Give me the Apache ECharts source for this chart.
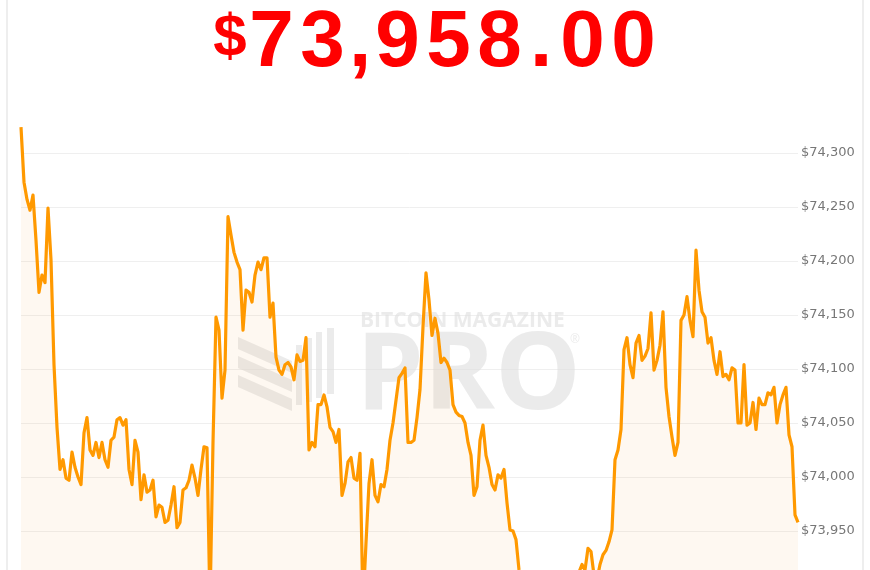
<!DOCTYPE html>
<html>
<head>
<meta charset="utf-8">
<script src="https://cdn.jsdelivr.net/npm/echarts@6/dist/echarts.min.js"></script>
<style>
html,body{margin:0;padding:0;background:#fff;overflow:hidden;width:870px;height:570px;}
#c{width:870px;height:600px;}
</style>
</head>
<body>
<div id="c"></div>
<script>
// Headline price
var headlinePrice = '$73,958.00';
// Y-axis ticks
var yMin = 73900, yMax = 74350, yStep = 50;
// Price series (left to right)
var prices = [
74324,74273,74257,74247,74261,74219,74171,74187,74180,74249,
74201,74104,74046,74007,74016,73999,73997,74023,74009,74000,
73993,74041,74055,74025,74020,74032,74018,74032,74016,74009,
74034,74037,74053,74055,74048,74053,74007,73993,74034,74023,
73979,74002,73986,73988,73997,73963,73974,73972,73958,73960,
73974,73991,73953,73958,73988,73990,73997,74011,73999,73983,
74007,74028,74027,73880,74032,74148,74136,74073,74099,74241,
74224,74208,74199,74192,74136,74173,74171,74162,74187,74199,
74192,74203,74203,74148,74161,74111,74099,74095,74104,74106,
74102,74090,74113,74107,74108,74129,74025,74032,74028,74067,
74067,74076,74065,74046,74042,74032,74044,73983,73994,74014,
74018,73999,73997,74022,73880,73939,73994,74016,73983,73977,
73993,73991,74007,74034,74050,74071,74092,74096,74101,74032,
74032,74034,74055,74081,74139,74189,74164,74131,74147,74133,
74106,74110,74106,74099,74067,74060,74057,74056,74050,74032,
74020,73983,73991,74034,74048,74020,74009,73993,73988,74002,
73999,74007,73976,73951,73950,73942,73914,73895,73885,73878,
73872,73870,73866,73868,73874,73871,73878,73883,73880,73887,
73892,73889,73896,73901,73898,73906,73912,73919,73914,73934,
73931,73909,73905,73919,73928,73932,73940,73951,74016,74025,
74044,74118,74129,74104,74092,74124,74131,74108,74112,74119,
74152,74099,74108,74122,74153,74083,74056,74037,74020,74032,
74145,74150,74167,74145,74130,74210,74173,74153,74148,74124,
74129,74108,74095,74116,74093,74095,74090,74101,74099,74050,
74050,74104,74048,74050,74069,74044,74073,74067,74067,74078,
74076,74083,74050,74067,74076,74083,74039,74028,73965,73958
];
var categories = prices.map(function(_, i){ return String(i); });

// Build rich headline: each character its own token
function buildHeadline(s){
  var out = '';
  for (var i = 0; i < s.length; i++) {
    var ch = s[i];
    var k = ch === '$' ? 's' : (ch === ',' ? 'c' : (ch === '.' ? 'p' : 'd'));
    out += '{' + k + '|' + ch + '}';
  }
  return out;
}
var hf = 'Liberation Sans, Arial, Helvetica, sans-serif';
function tok(size, w, pad){
  return {fontSize:size, fontWeight:'bold', fontFamily:hf, fill:'#ff0000', width:w, align:'center', verticalAlign:'middle', lineHeight:90, padding: pad || [0,0,0,0]};
}

var wm = '#dedede';
var wmo = 0.6;
var chart = echarts.init(document.getElementById('c'), null, {renderer:'canvas'});
chart.setOption({
  animation:false,
  backgroundColor:'#ffffff',
  grid:{left:21, right:72, top:99, bottom:15, containLabel:false},
  xAxis:{type:'category', data:categories, boundaryGap:false, show:false},
  yAxis:{
    type:'value', position:'right', min:yMin, max:yMax, interval:yStep,
    axisLine:{show:false}, axisTick:{show:false},
    splitLine:{show:true, showMaxLine:false, showMinLine:false, lineStyle:{color:'#efefef', width:1}},
    axisLabel:{
      color:'#777777', fontSize:13, fontFamily:'DejaVu Sans, Verdana, sans-serif', margin:3,
      showMaxLabel:false, showMinLabel:false,
      formatter:function(v){ return '$' + v.toLocaleString('en-US'); }
    }
  },
  graphic:{elements:[
    {type:'line', z:0, silent:true, shape:{x1:7,y1:0,x2:7,y2:600}, style:{stroke:'#e8e8e8', lineWidth:1.5}},
    {type:'line', z:0, silent:true, shape:{x1:863,y1:0,x2:863,y2:600}, style:{stroke:'#e8e8e8', lineWidth:1.5}},
    {type:'text', z:5, silent:true, style:{
      x:214, y:44, text:buildHeadline(headlinePrice), verticalAlign:'middle', align:'left',
      rich:{ s:tok(60,32,[0,0,10,0]), d:tok(80,51), c:tok(80,24), p:tok(80,32) }
    }},
    // watermark
    {type:'polygon', z:1, silent:true, shape:{points:[[238,337],[292,361],[292,373],[238,349]]}, style:{fill:wm, opacity:wmo}},
    {type:'polygon', z:1, silent:true, shape:{points:[[238,356],[292,380],[292,392],[238,368]]}, style:{fill:wm, opacity:wmo}},
    {type:'polygon', z:1, silent:true, shape:{points:[[238,375],[292,399],[292,411],[238,387]]}, style:{fill:wm, opacity:wmo}},
    {type:'rect', z:1, silent:true, shape:{x:296,y:345,width:6,height:60}, style:{fill:wm, opacity:wmo}},
    {type:'rect', z:1, silent:true, shape:{x:306,y:338,width:6,height:64}, style:{fill:wm, opacity:wmo}},
    {type:'rect', z:1, silent:true, shape:{x:316,y:332,width:6,height:66}, style:{fill:wm, opacity:wmo}},
    {type:'rect', z:1, silent:true, shape:{x:327,y:328,width:7,height:66}, style:{fill:wm, opacity:wmo}},
    {type:'text', z:1, silent:true, style:{x:360, y:321, text:'BITCOIN MAGAZINE', font:'bold 21px "Open Sans", sans-serif', fill:wm, opacity:wmo, verticalAlign:'middle', align:'left'}},
    {type:'text', z:1, silent:true, style:{x:356, y:378, text:'PRO', font:'bold 108px "Open Sans", sans-serif', fill:wm, opacity:wmo, verticalAlign:'middle', align:'left'}},
    {type:'text', z:1, silent:true, style:{x:575, y:340, text:'®', font:'12px "Open Sans", sans-serif', fill:wm, opacity:wmo, verticalAlign:'middle', align:'center'}}
  ]},
  series:[{
    type:'line', data:prices, z:2, showSymbol:false, symbol:'none', smooth:false,
    lineStyle:{color:'#ff9900', width:3.2, join:'round'},
    itemStyle:{color:'#ff9900'},
    areaStyle:{color:'rgba(247,147,26,0.09)', origin:'start'},
    clip:true
  }]
});
</script>
</body>
</html>
